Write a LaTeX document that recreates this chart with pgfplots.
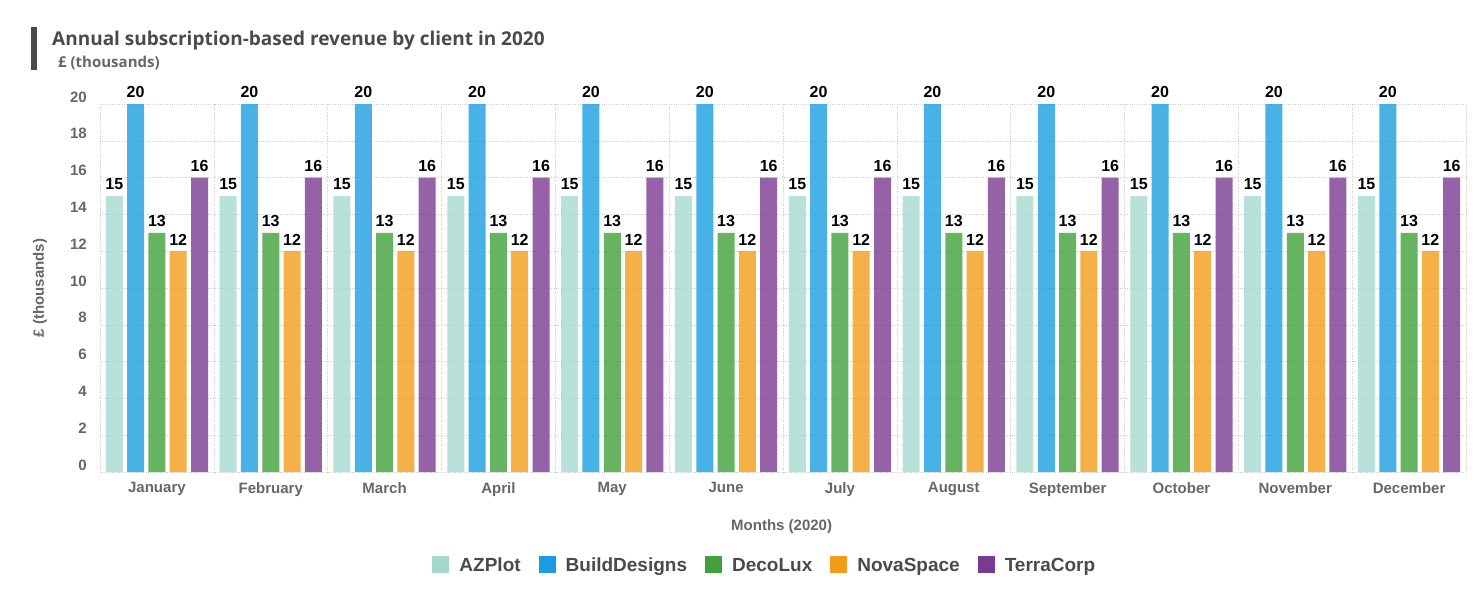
\documentclass[border=0pt]{standalone}
\usepackage{fontspec}
\setmainfont{Liberation Sans}
\newfontfamily\titlefont{Open Sans}
\usepackage{pgfplots}
\pgfplotsset{compat=1.18}
\definecolor{azplot}{HTML}{A5D9CF}
\definecolor{builddesigns}{HTML}{1A9DE0}
\definecolor{decolux}{HTML}{40A03A}
\definecolor{novaspace}{HTML}{F39C1A}
\definecolor{terracorp}{HTML}{7B3A91}
\definecolor{titlegray}{HTML}{4A4A4A}
\definecolor{tickgray}{HTML}{666666}
\definecolor{gridgray}{HTML}{CCCCCC}

\begin{document}
\begin{tikzpicture}
\useasboundingbox (0,0) rectangle (1474pt,-598pt);
% title block
\fill[titlegray] (31pt,-27pt) rectangle (37pt,-70pt);
\node[anchor=base west, inner sep=0pt, text=titlegray,
      font=\titlefont\bfseries\fontsize{19}{21}\selectfont]
  at (52pt,-45pt) {Annual subscription-based revenue by client in 2020};
\node[anchor=base west, inner sep=0pt, text=tickgray,
      font=\titlefont\bfseries\fontsize{15}{17}\selectfont]
  at (58pt,-67pt) {£ (thousands)};

\begin{axis}[
    at={(100pt,-472pt)}, anchor=south west,
    scale only axis, width=1366pt, height=368pt,
    ybar=4.3pt, bar width=17pt,
    xmin=-0.5, xmax=11.5, ymin=0, ymax=20,
    xtick={0,...,11},
    xticklabels={January,February,March,April,May,June,July,August,September,October,November,December},
    minor xtick={-0.5,0.5,...,11.5},
    ytick={0,2,...,20},
    xmajorgrids=false, xminorgrids=true, ymajorgrids=true,
    grid style={dotted, gridgray},
    minor grid style={dotted, gridgray},
    axis line style={draw=none},
    major tick length=0pt, minor tick length=0pt,
    /pgf/number format/assume math mode=true,
    tick label style={font=\bfseries\fontsize{15}{17}\selectfont, text=tickgray},
    yticklabel style={anchor=east, inner sep=0pt, xshift=-13pt, yshift=7pt},
    xticklabel style={anchor=north, inner sep=0pt, yshift=-10pt},
    xlabel={Months (2020)},
    xlabel style={at={(axis description cs:0.499,-0.1495)}, anchor=center,
                  font=\bfseries\fontsize{15}{17}\selectfont, text=tickgray},
    ylabel={£ (thousands)},
    ylabel style={at={(axis description cs:-0.0439,0.5)}, anchor=center,
                  font=\bfseries\fontsize{15}{17}\selectfont, text=tickgray},
    nodes near coords,
    every node near coord/.append style={font=\bfseries\fontsize{16}{18}\selectfont,
                  text=black, anchor=south, inner sep=0pt, yshift=6pt},
    legend columns=5,
    legend style={at={(axis description cs:0.486,-0.25)}, anchor=center,
                  draw=none, fill=none,
                  font=\bfseries\fontsize{19}{21}\selectfont, text=titlegray,
                  nodes={inner sep=0pt, text height=13.6pt, text depth=0pt},
                  /tikz/every odd column/.append style={column sep=10pt},
                  /tikz/every even column/.append style={column sep=18pt}},
    legend image code/.code={\fill[#1, fill opacity=1, draw=none] (0pt,-8pt) rectangle (17pt,9pt);},
]
\addplot[fill=azplot, fill opacity=0.8, draw=none, text opacity=1] coordinates {
  (0,15) (1,15) (2,15) (3,15) (4,15) (5,15) (6,15) (7,15) (8,15) (9,15) (10,15) (11,15)};
\addplot[fill=builddesigns, fill opacity=0.8, draw=none, text opacity=1] coordinates {
  (0,20) (1,20) (2,20) (3,20) (4,20) (5,20) (6,20) (7,20) (8,20) (9,20) (10,20) (11,20)};
\addplot[fill=decolux, fill opacity=0.8, draw=none, text opacity=1] coordinates {
  (0,13) (1,13) (2,13) (3,13) (4,13) (5,13) (6,13) (7,13) (8,13) (9,13) (10,13) (11,13)};
\addplot[fill=novaspace, fill opacity=0.8, draw=none, text opacity=1] coordinates {
  (0,12) (1,12) (2,12) (3,12) (4,12) (5,12) (6,12) (7,12) (8,12) (9,12) (10,12) (11,12)};
\addplot[fill=terracorp, fill opacity=0.8, draw=none, text opacity=1] coordinates {
  (0,16) (1,16) (2,16) (3,16) (4,16) (5,16) (6,16) (7,16) (8,16) (9,16) (10,16) (11,16)};
\legend{AZPlot, BuildDesigns, DecoLux, NovaSpace, TerraCorp}
\end{axis}
\end{tikzpicture}
\end{document}
